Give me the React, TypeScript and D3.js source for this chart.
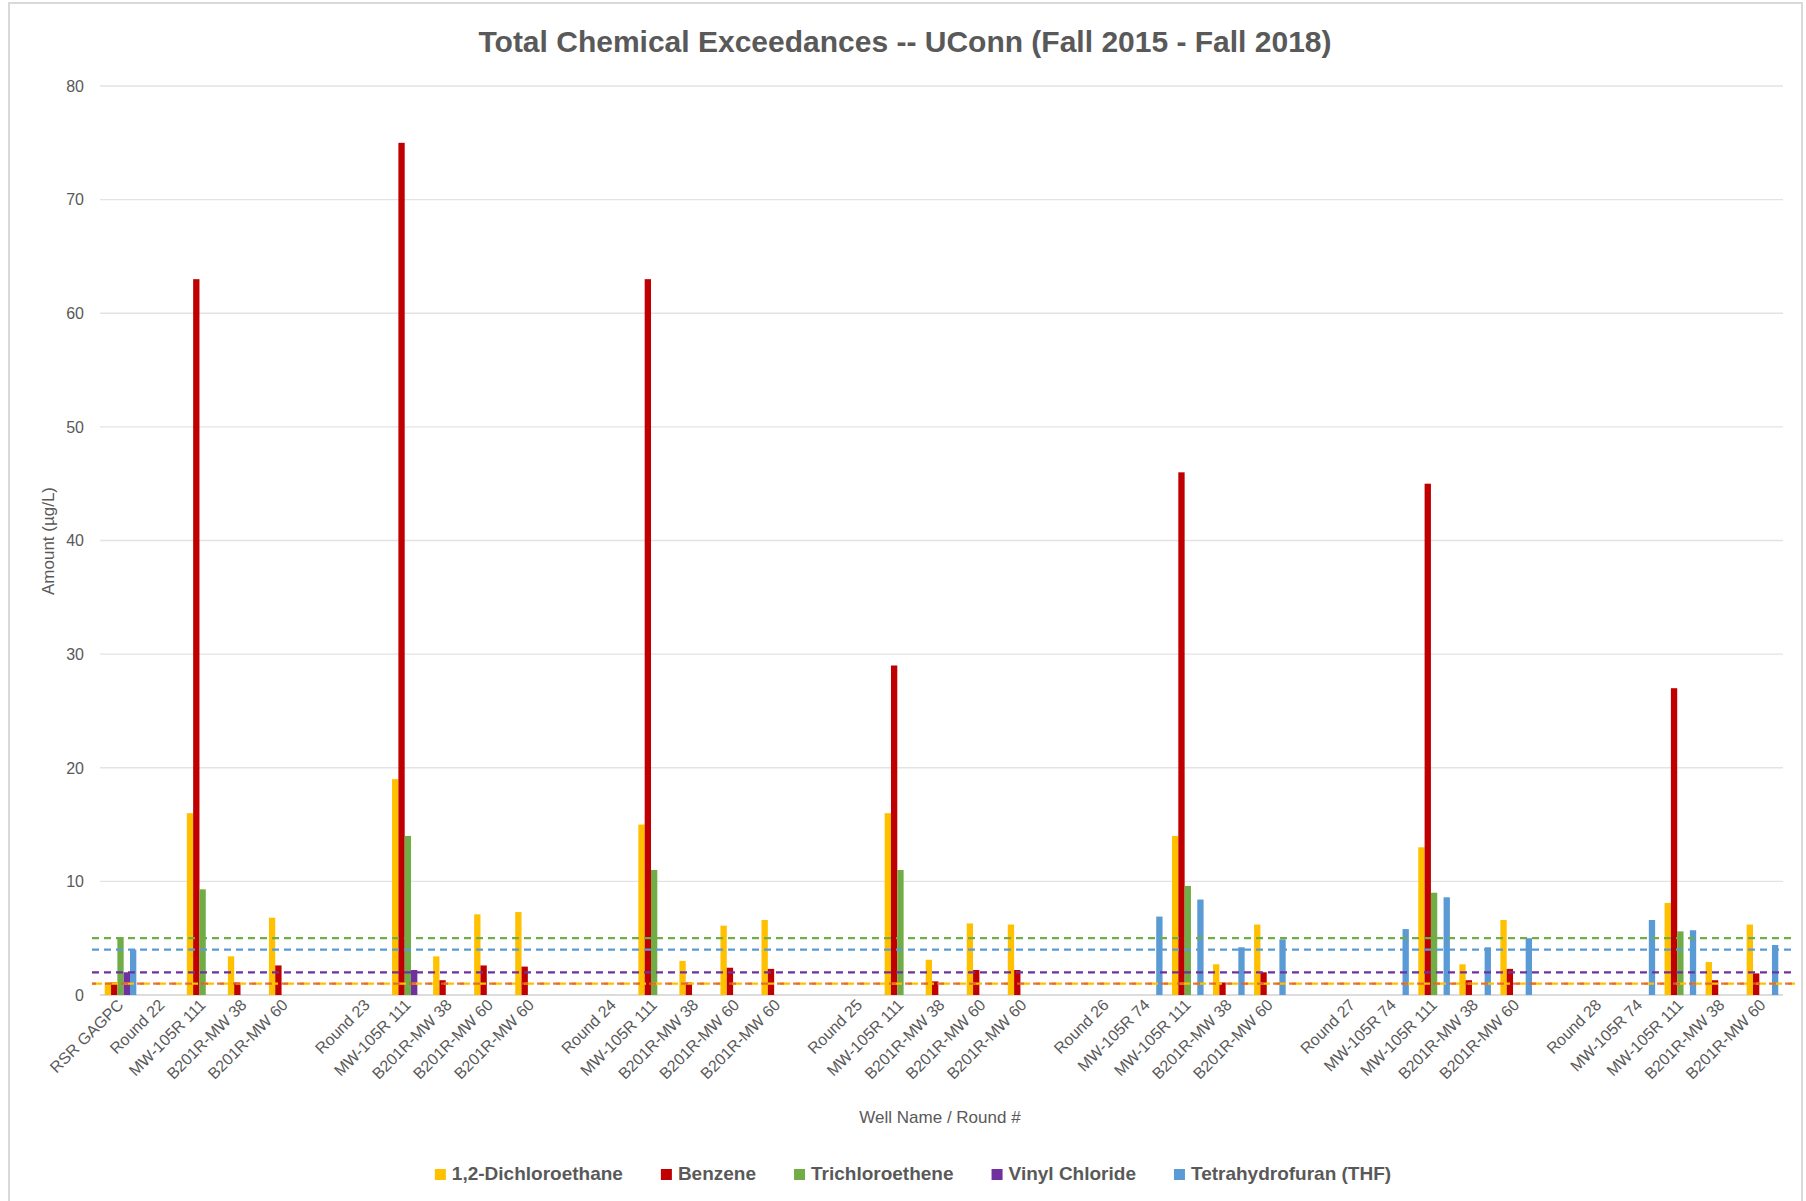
import React, { useMemo } from "react";
import * as d3 from "d3";

// ---------- DATA ----------
const categories: string[] = [
  "RSR GAGPC", "Round 22", "MW-105R 111", "B201R-MW 38", "B201R-MW 60", "",
  "Round 23", "MW-105R 111", "B201R-MW 38", "B201R-MW 60", "B201R-MW 60", "",
  "Round 24", "MW-105R 111", "B201R-MW 38", "B201R-MW 60", "B201R-MW 60", "",
  "Round 25", "MW-105R 111", "B201R-MW 38", "B201R-MW 60", "B201R-MW 60", "",
  "Round 26", "MW-105R 74", "MW-105R 111", "B201R-MW 38", "B201R-MW 60", "",
  "Round 27", "MW-105R 74", "MW-105R 111", "B201R-MW 38", "B201R-MW 60", "",
  "Round 28", "MW-105R 74", "MW-105R 111", "B201R-MW 38", "B201R-MW 60",
];

const _ = null;
// 1,2-Dichloroethane
const dichloroethane: (number | null)[] = [
  1.1, _, 16, 3.4, 6.8, _,
  _, 19, 3.4, 7.1, 7.3, _,
  _, 15, 3.0, 6.1, 6.6, _,
  _, 16, 3.1, 6.3, 6.2, _,
  _, _, 14, 2.7, 6.2, _,
  _, _, 13, 2.7, 6.6, _,
  _, _, 8.1, 2.9, 6.2,
];
const benzene: (number | null)[] = [
  1.1, _, 63, 1.1, 2.6, _,
  _, 75, 1.3, 2.6, 2.5, _,
  _, 63, 1.1, 2.4, 2.3, _,
  _, 29, 1.2, 2.2, 2.2, _,
  _, _, 46, 1.1, 2.0, _,
  _, _, 45, 1.3, 2.3, _,
  _, _, 27, 1.3, 1.9,
];
const trichloroethene: (number | null)[] = [
  5.1, _, 9.3, _, _, _,
  _, 14, _, _, _, _,
  _, 11, _, _, _, _,
  _, 11, _, _, _, _,
  _, _, 9.6, _, _, _,
  _, _, 9.0, _, _, _,
  _, _, 5.6, _, _,
];
const vinylChloride: (number | null)[] = [
  2.0, _, _, _, _, _,
  _, 2.2, _, _, _, _,
  _, _, _, _, _, _,
  _, _, _, _, _, _,
  _, _, _, _, _, _,
  _, _, _, _, _, _,
  _, _, _, _, _,
];
const thf: (number | null)[] = [
  4.0, _, _, _, _, _,
  _, _, _, _, _, _,
  _, _, _, _, _, _,
  _, _, _, _, _, _,
  _, 6.9, 8.4, 4.2, 4.9, _,
  _, 5.8, 8.6, 4.2, 5.0, _,
  _, 6.6, 5.7, _, 4.4,
];

const seriesNames = ["1,2-Dichloroethane", "Benzene", "Trichloroethene", "Vinyl Chloride", "Tetrahydrofuran (THF)"];
const seriesColors = ["#FFC000", "#C00000", "#70AD47", "#7030A0", "#5B9BD5"];
const seriesValues = [dichloroethane, benzene, trichloroethene, vinylChloride, thf];

// regulatory limits (dashed reference lines)
const limitValues = [5, 4, 2, 1, 1];
const limitColors = ["#70AD47", "#5B9BD5", "#7030A0", "#FFC000", "#E0602A"];

const yTicks = [0, 10, 20, 30, 40, 50, 60, 70, 80];

const title = "Total Chemical Exceedances -- UConn (Fall 2015 - Fall 2018)";
const xTitle = "Well Name / Round #";
const yTitle = "Amount (µg/L)";

const FONT = "'Liberation Sans', Arial, sans-serif";
const TEXT = "#595959";

export default function App() {
  const W = 1806, H = 1201;
  const plotLeft = 100, plotRight = 1783, plotTop = 86, plotBottom = 995;

  const x = d3.scaleBand<number>()
    .domain(d3.range(categories.length))
    .range([plotLeft, plotRight])
    .paddingInner(0.23)
    .paddingOuter(0.115);
  const xs = d3.scaleBand<number>()
    .domain(d3.range(seriesNames.length))
    .range([0, x.bandwidth()]);
  const y = d3.scaleLinear().domain([0, 80]).range([plotBottom, plotTop]);

  const legend = useMemo(() => {
    const canvas = document.createElement("canvas");
    const ctx = canvas.getContext("2d")!;
    ctx.font = `bold 19px ${FONT}`;
    const sq = 11, gapSq = 6, gapItem = 38;
    const widths = seriesNames.map((n) => sq + gapSq + ctx.measureText(n).width);
    const total = d3.sum(widths) + gapItem * (widths.length - 1);
    let cx = 913 - total / 2;
    return widths.map((w, i) => {
      const item = { x: cx, name: seriesNames[i], color: seriesColors[i] };
      cx += w + gapItem;
      return item;
    });
  }, []);

  const bars: JSX.Element[] = [];
  seriesValues.forEach((vals, s) => {
    vals.forEach((v, i) => {
      if (v == null) return;
      bars.push(
        <rect
          key={`b-${s}-${i}`}
          x={(x(i) as number) + (xs(s) as number)}
          y={y(v)}
          width={xs.bandwidth()}
          height={y(0) - y(v)}
          fill={seriesColors[s]}
        />
      );
    });
  });

  const lineX0 = plotLeft - 8, lineX1 = plotRight + 12;

  return (
    <div style={{ position: "absolute", left: 0, top: 0, width: W, height: H, overflow: "hidden", background: "#fff" }}>
      <svg width={W} height={H} style={{ display: "block" }} fontFamily={FONT}>
        <rect x={0} y={0} width={W} height={H} fill="#fff" />
        <rect x={9} y={3} width={1793} height={1210} fill="none" stroke="#D9D9D9" strokeWidth={2} />

        <text x={905} y={52} textAnchor="middle" fontSize={30} fontWeight="bold" fill={TEXT}>{title}</text>

        {/* gridlines */}
        {yTicks.map((t) => (
          <line key={`g${t}`} x1={plotLeft} x2={plotRight} y1={y(t)} y2={y(t)}
            stroke={t === 0 ? "#D0D0D0" : "#E3E3E3"} strokeWidth={1.3} />
        ))}
        {yTicks.map((t) => (
          <text key={`yt${t}`} x={84} y={y(t)} dy="0.36em" textAnchor="end" fontSize={16} fill={TEXT}>{t}</text>
        ))}

        {bars}

        {/* limit lines */}
        {limitValues.map((v, k) => (
          <line key={`l${k}`} x1={lineX0} x2={lineX1} y1={y(v)} y2={y(v)}
            stroke={limitColors[k]} strokeWidth={2.2}
            strokeDasharray={k === 3 ? "10 6" : k === 4 ? "7 9" : "7 5"}
            strokeDashoffset={k === 4 ? 3 : 0}
            opacity={k === 4 ? 0.85 : 1} />
        ))}

        {/* category labels */}
        {categories.map((c, i) => {
          const cx = (x(i) as number) + x.bandwidth() / 2 + 4;
          const cy = 1006;
          return (
            <text key={`xc${i}`} x={cx} y={cy} textAnchor="end" fontSize={16} fill={TEXT}
              transform={`rotate(-45 ${cx} ${cy})`}>{c}</text>
          );
        })}

        <text x={940} y={1123} textAnchor="middle" fontSize={17} fill={TEXT}>{xTitle}</text>
        <text transform={`translate(54 ${541}) rotate(-90)`} textAnchor="middle" fontSize={17} fill={TEXT}>{yTitle}</text>

        {/* legend */}
        {legend.map((it, i) => (
          <g key={`lg${i}`}>
            <rect x={it.x} y={1169} width={11} height={11} fill={it.color} />
            <text x={it.x + 17} y={1180} fontSize={19} fontWeight="bold" fill={TEXT}>{it.name}</text>
          </g>
        ))}
      </svg>
    </div>
  );
}
